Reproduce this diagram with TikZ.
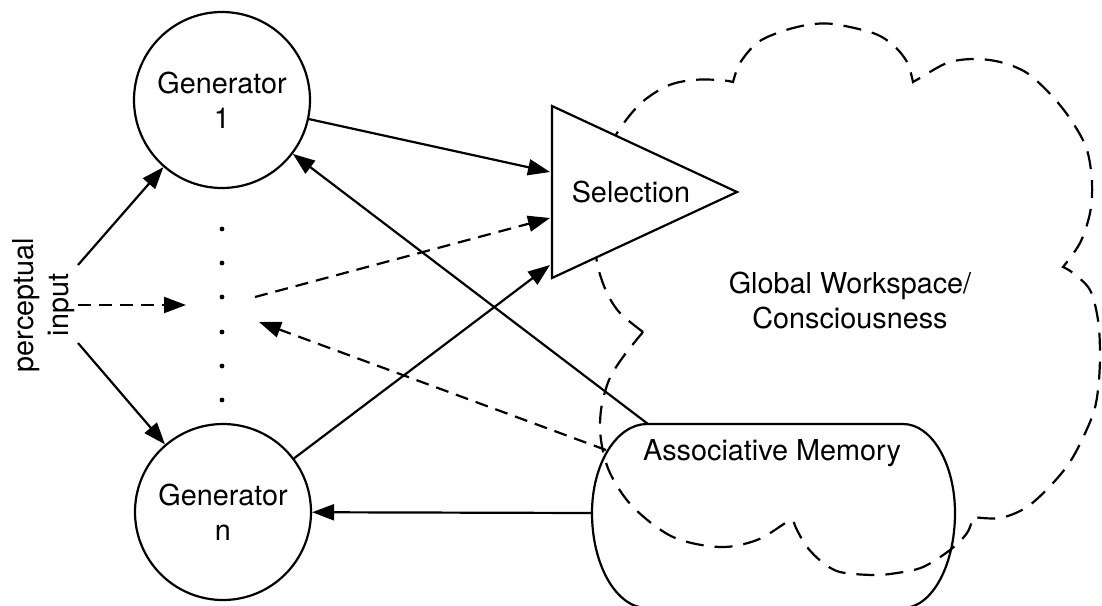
\documentclass[tikz,border=0pt]{standalone}
\usepackage{fontspec}
\setmainfont{TeX Gyre Heros}
\usetikzlibrary{arrows.meta}
\newcommand\lblfont{\fontsize{28.8}{35}\selectfont}
\begin{document}
\begin{tikzpicture}[x=1pt,y=-1pt,
  gen/.style={circle, draw, fill=white, line width=2.2pt, minimum size=176pt, inner sep=0pt, align=center, font=\lblfont},
  lbl/.style={align=center, font=\lblfont, inner sep=0pt},
  shapeline/.style={line width=2.2pt},
  arr/.style={line width=2.2pt, -{Triangle[length=22pt,width=16pt]}},
  darr/.style={arr, dash pattern=on 13pt off 8pt},
  cloudline/.style={line width=2.2pt, dash pattern=on 18pt off 11pt}]
\useasboundingbox (0,0) rectangle (1102,605);
\clip (0,0) rectangle (1102,605);

% cloud (global workspace)
\draw[cloudline]
  plot[smooth, tension=0.55] coordinates {(643,332) (620,313) (607,293) (598,267) (594,235) (597,195) (605,160) (617,133) (640,104) (667,86) (693,80) (720,80) (733,82)}
  -- plot[smooth, tension=0.55] coordinates {(733,82) (740,63) (757,43) (780,32) (807,25) (833,24) (873,33) (893,45) (907,62) (913,82)}
  -- plot[smooth, tension=0.55] coordinates {(913,82) (920,78) (947,63) (973,59) (1000,62) (1027,73) (1053,97) (1073,123) (1087,150) (1092,183) (1090,213) (1080,243) (1063,267)}
  -- plot[smooth, tension=0.55] coordinates {(1063,267) (1073,273) (1090,290) (1098,320) (1100,355) (1098,390) (1092,417) (1073,457) (1053,483) (1027,507) (1000,518) (973,517)}
  -- plot[smooth, tension=0.55] coordinates {(973,517) (967,533) (950,550) (923,567) (897,573) (873,575) (840,572) (822,562) (807,547) (797,530) (793,520)}
  -- plot[smooth, tension=0.55] coordinates {(793,520) (787,522) (757,540) (720,547) (673,537) (633,507) (610,473) (601,440) (601,410) (609,380) (623,357) (643,332)};

% selection triangle
\draw[shapeline, fill=white, line join=miter] (552,106) -- (737,192) -- (552,278) -- cycle;
\node[lbl] (sel) at (631,192) {Selection};

% associative memory shape
\draw[shapeline] (647,424) -- (903,424)
  arc[start angle=-90, end angle=0, x radius=52, y radius=89]
  arc[start angle=0, end angle=90, x radius=52, y radius=95]
  -- (647,608)
  arc[start angle=90, end angle=180, x radius=55, y radius=95]
  arc[start angle=180, end angle=270, x radius=55, y radius=89] -- cycle;
\node[lbl] (mem) at (772,453) {Associative Memory};

% text in cloud
\node[lbl] (gw) at (850,300) {Global Workspace/\\Consciousness};

% generators
\node[gen] (g1) at (222,100) {Generator\\1};
\node[gen] (gn) at (223,512) {Generator\\n};

% dots
\foreach \yy in {229,263,297,332,366,400} \fill (222,\yy) circle[radius=2.4];

% perceptual input
\node[lbl, rotate=90] (pin) at (44,305) {perceptual\\input};

% named ends
\coordinate (p1) at (78,265);
\coordinate (p2) at (78,305);
\coordinate (p3) at (78,343);
\coordinate (d1) at (186,305);
\coordinate (d2) at (255,297);
\coordinate (d3) at (259,322);
\coordinate (s1) at (550,172);
\coordinate (s2) at (550,218);
\coordinate (s3) at (550,265);
\coordinate (m1) at (648,424);
\coordinate (m2) at (606,450);
\coordinate (m3) at (592,513);

% connectors
\draw[arr] (p1) -- (g1);
\draw[arr] (p3) -- (gn);
\draw[darr] (p2) -- (d1);
\draw[arr] (g1) -- (s1);
\draw[darr] (d2) -- (s2);
\draw[arr] (gn) -- (s3);
\draw[arr] (m1) -- (g1);
\draw[darr] (m2) -- (d3);
\draw[arr] (m3) -- (gn);
\end{tikzpicture}
\end{document}
